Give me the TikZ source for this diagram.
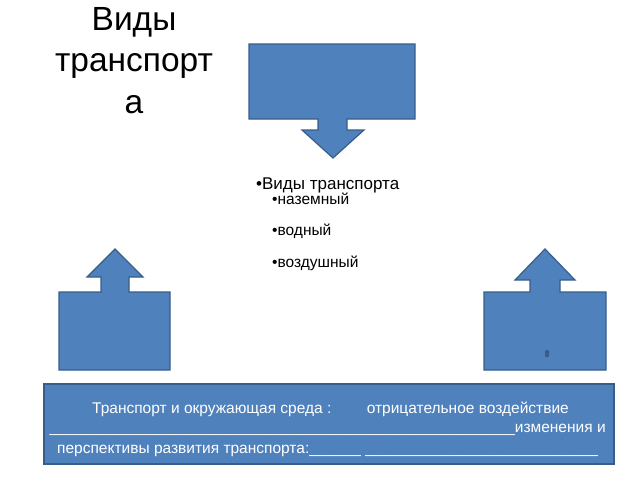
\documentclass[tikz,border=0pt]{standalone}
\usepackage{fontspec}
\setmainfont{Liberation Sans}
\usepackage{xcolor}
\definecolor{boxblue}{HTML}{4F81BD}
\definecolor{boxedge}{HTML}{385D8A}

\begin{document}
\begin{tikzpicture}[x=1pt, y=-1pt,
    callout/.style={fill=boxblue, draw=boxedge, line width=1.2pt, line join=miter},
    bodytext/.style={inner sep=0pt, font=\fontsize{15.5}{18}\selectfont},
    boxtext/.style={inner sep=0pt, text=white, font=\fontsize{15.5}{18}\selectfont}]
    \useasboundingbox (0,0) rectangle (640,480);

    % Title
    \node[inner sep=0pt, align=center, anchor=base,
          font=\fontsize{33.5}{41.5}\selectfont] (title) at (134,113)
        {Виды\\транспорт\\а};

    % Top callout, arrow pointing down
    \draw[callout] (249,44) -- (415,44) -- (415,119) -- (347,119) -- (347,130)
        -- (364,130) -- (333,158) -- (302,130) -- (318,130) -- (318,119)
        -- (249,119) -- cycle;

    % Left callout, arrow pointing up
    \draw[callout] (59,292) -- (101,292) -- (101,277) -- (87,277) -- (115,249)
        -- (143,277) -- (129,277) -- (129,292) -- (170,292) -- (170,370)
        -- (59,370) -- cycle;

    % Right callout, arrow pointing up
    \draw[callout] (484,292) -- (530,292) -- (530,280) -- (515,280) -- (545,249)
        -- (575,280) -- (560,280) -- (560,292) -- (606,292) -- (606,370)
        -- (484,370) -- cycle;
    \fill[boxedge, rounded corners=1pt] (545,350) rectangle (549,357);

    % Bullet list
    \node[bodytext, anchor=base west, font=\fontsize{17}{20}\selectfont] (kinds) at (256,189) {•Виды транспорта};
    \node[bodytext, anchor=base west] (land) at (272,204) {•наземный};
    \node[bodytext, anchor=base west] (water) at (272,235) {•водный};
    \node[bodytext, anchor=base west] (air) at (272,267) {•воздушный};

    % Bottom box
    \draw[callout] (44,384) rectangle (614,464);
    \node[boxtext, anchor=base west] (envline) at (92,413)
        {Транспорт и окружающая среда :};
    \node[boxtext, anchor=base east] (impact) at (569,413)
        {отрицательное воздействие};
    \node[boxtext, anchor=base east] (changeline) at (606,432)
        {\_\_\_\_\_\_\_\_\_\_\_\_\_\_\_\_\_\_\_\_\_\_\_\_\_\_\_\_\_\_\_\_\_\_\_\_\_\_\_\_\_\_\_\_\_\_\_\_\_\_\_\_\_\_изменения и};
    \node[boxtext, anchor=base west] (prospectline) at (57,453)
        {перспективы развития транспорта:\_\_\_\_\_\_ \_\_\_\_\_\_\_\_\_\_\_\_\_\_\_\_\_\_\_\_\_\_\_\_\_\_\_};
\end{tikzpicture}
\end{document}
